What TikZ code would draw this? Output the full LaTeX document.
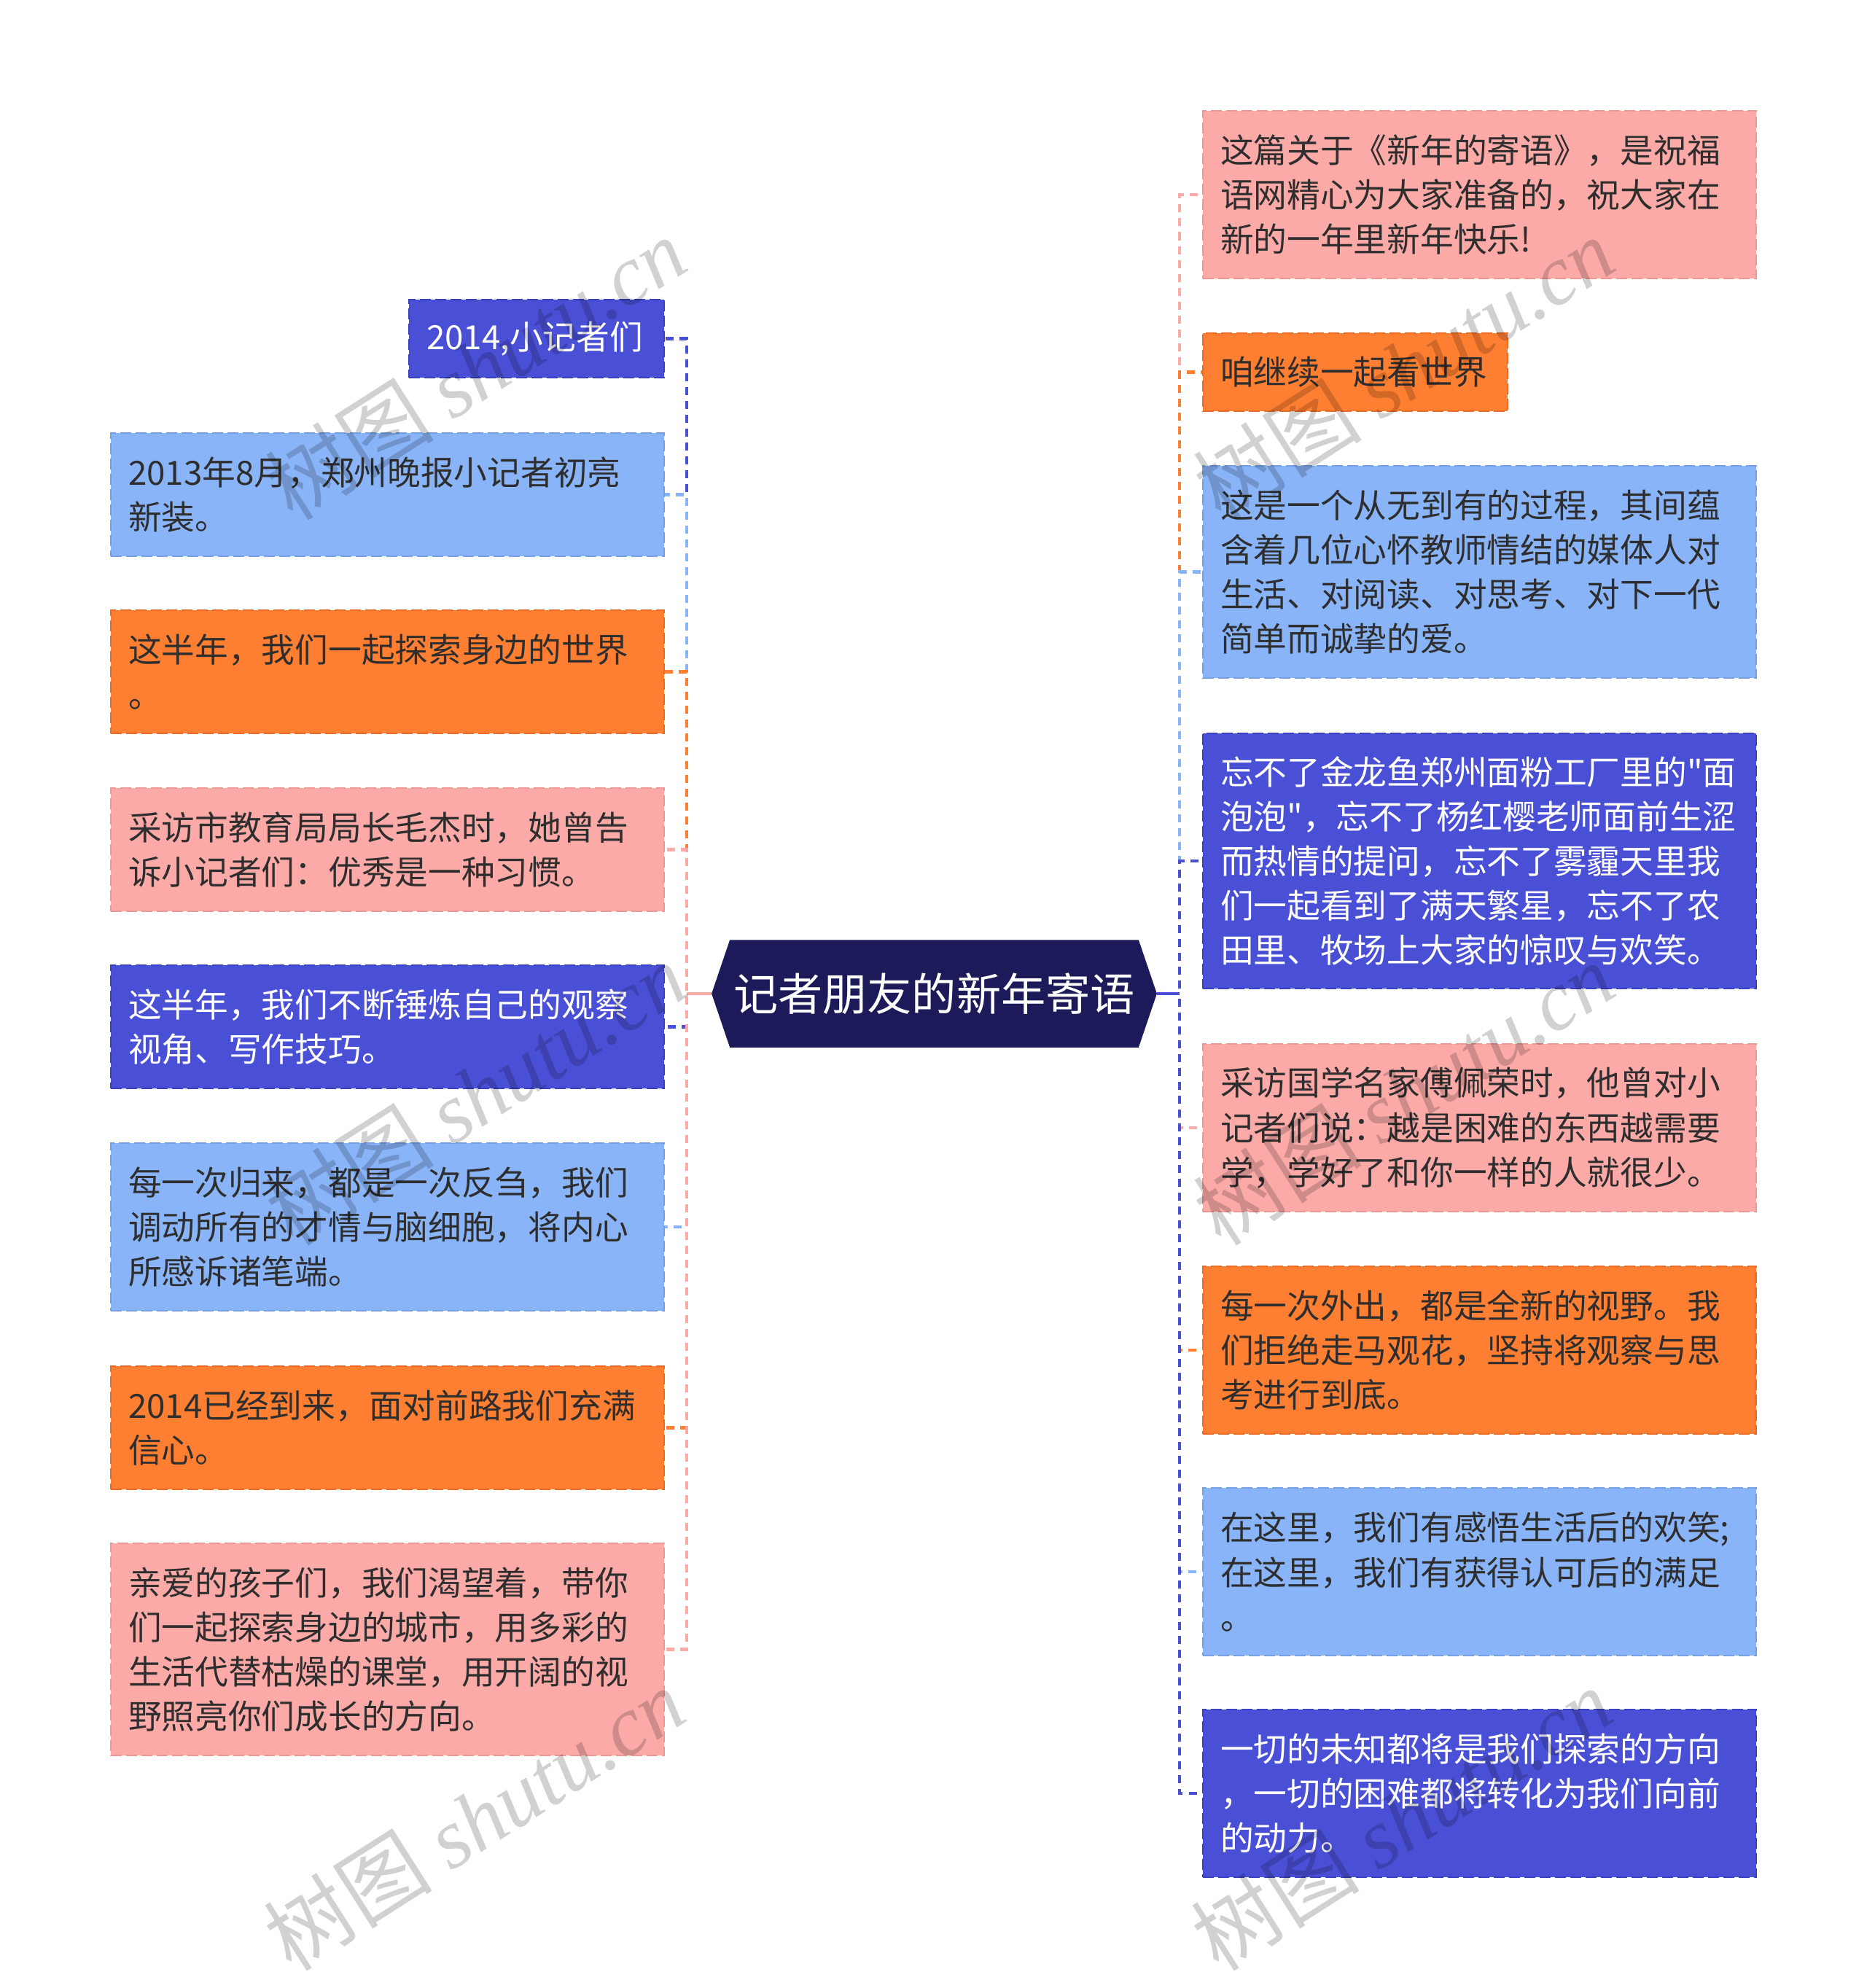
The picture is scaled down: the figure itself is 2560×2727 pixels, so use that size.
\documentclass[tikz,border=0pt]{standalone}
\usepackage{fontspec}
\newfontfamily\cjk{Noto Sans CJK SC}
\newfontfamily\wmserif{Liberation Serif}
\usetikzlibrary{backgrounds}
\definecolor{cnavy}{HTML}{1C1A58}
\definecolor{cdark}{HTML}{4A50D6}
\definecolor{cdarkb}{HTML}{3A40BE}
\definecolor{clight}{HTML}{8AB4F8}
\definecolor{clightb}{HTML}{76A0E4}
\definecolor{corange}{HTML}{FF7F32}
\definecolor{corangeb}{HTML}{E86C26}
\definecolor{cpink}{HTML}{FBAAA8}
\definecolor{cpinkb}{HTML}{EE9896}
\definecolor{ctext}{HTML}{2E2E2E}
\begin{document}
\begin{tikzpicture}[x=0.01cm,y=-0.01cm,
  leaf/.style={anchor=north west, draw, line width=0.02cm,
    dash pattern=on 0.15cm off 0.06cm,
    inner xsep=0.24cm, inner ysep=0pt,
    minimum width=7.59cm, text width=7.11cm, align=left,
    font=\cjk\fontsize{13pt}{17.36pt}\selectfont, text=ctext},
  darkbox/.style={fill=cdark, draw=cdarkb, text=white},
  lightbox/.style={fill=clight, draw=clightb},
  orangebox/.style={fill=corange, draw=corangeb},
  pinkbox/.style={fill=cpink, draw=cpinkb},
  lnone/.style={minimum height=1.07cm},
  lntwo/.style={minimum height=1.69cm},
  lnthree/.style={minimum height=2.30cm},
  lnfour/.style={minimum height=2.91cm},
  lnfive/.style={minimum height=3.50cm},
  conn/.style={line width=0.045cm, dash pattern=on 0.11cm off 0.08cm},
  solidconn/.style={line width=0.04cm},
  rootnode/.style={minimum width=6.09cm, minimum height=1.46cm, inner sep=0pt,
    text=white, font=\cjk\fontsize{17.4pt}{20pt}\selectfont},
  wm/.style={text=black, text opacity=0.18, rotate=32.5,
    font=\cjk\fontsize{33pt}{38pt}\selectfont}
]
\useasboundingbox (0,0) rectangle (2560,2727);

% root
\node[rootnode] (C) at (1281.5,1363) {记者朋友的新年寄语};
\begin{scope}[on background layer]
\fill[white] (0,0) rectangle (2560,2727);
\fill[cnavy] (C.west) -- ([xshift=0.25cm]C.north west) -- ([xshift=-0.25cm]C.north east)
  -- (C.east) -- ([xshift=-0.25cm]C.south east) -- ([xshift=0.25cm]C.south west) -- cycle;
\end{scope}
\coordinate (LT) at (942,1363);
\coordinate (RT) at (1618,1363);

% left boxes
\node[leaf, darkbox, lnone, minimum width=3.5cm, text width=3.02cm] (L1) at (560,410) {2014,小记者们};
\node[leaf, lightbox, lntwo] (L2) at (151,593) {2013年8月，郑州晚报小记者初亮\\新装。};
\node[leaf, orangebox, lntwo] (L3) at (151,836) {这半年，我们一起探索身边的世界\\。};
\node[leaf, pinkbox, lntwo] (L4) at (151,1080) {采访市教育局局长毛杰时，她曾告\\诉小记者们：优秀是一种习惯。};
\node[leaf, darkbox, lntwo] (L5) at (151,1323) {这半年，我们不断锤炼自己的观察\\视角、写作技巧。};
\node[leaf, lightbox, lnthree] (L6) at (151,1567) {每一次归来，都是一次反刍，我们\\调动所有的才情与脑细胞，将内心\\所感诉诸笔端。};
\node[leaf, orangebox, lntwo] (L7) at (151,1873) {2014已经到来，面对前路我们充满\\信心。};
\node[leaf, pinkbox, lnfour] (L8) at (151,2116) {亲爱的孩子们，我们渴望着，带你\\们一起探索身边的城市，用多彩的\\生活代替枯燥的课堂，用开阔的视\\野照亮你们成长的方向。};

% right boxes
\node[leaf, pinkbox, lnthree] (R1) at (1649,151) {这篇关于《新年的寄语》，是祝福\\语网精心为大家准备的，祝大家在\\新的一年里新年快乐!};
\node[leaf, orangebox, lnone, minimum width=4.14cm, text width=3.70cm] (R2) at (1649,456) {咱继续一起看世界};
\node[leaf, lightbox, lnfour] (R3) at (1649,638) {这是一个从无到有的过程，其间蕴\\含着几位心怀教师情结的媒体人对\\生活、对阅读、对思考、对下一代\\简单而诚挚的爱。};
\node[leaf, darkbox, lnfive] (R4) at (1649,1005) {忘不了金龙鱼郑州面粉工厂里的"面\\泡泡"，忘不了杨红樱老师面前生涩\\而热情的提问，忘不了雾霾天里我\\们一起看到了满天繁星，忘不了农\\田里、牧场上大家的惊叹与欢笑。};
\node[leaf, pinkbox, lnthree] (R5) at (1649,1431) {采访国学名家傅佩荣时，他曾对小\\记者们说：越是困难的东西越需要\\学，学好了和你一样的人就很少。};
\node[leaf, orangebox, lnthree] (R6) at (1649,1736) {每一次外出，都是全新的视野。我\\们拒绝走马观花，坚持将观察与思\\考进行到底。};
\node[leaf, lightbox, lnthree] (R7) at (1649,2040) {在这里，我们有感悟生活后的欢笑;\\在这里，我们有获得认可后的满足\\。};
\node[leaf, darkbox, lnthree] (R8) at (1649,2344) {一切的未知都将是我们探索的方向\\，一切的困难都将转化为我们向前\\的动力。};

% connectors
\foreach \n/\c in {L1/cdark, L2/clight, L3/corange, L4/cpink, L5/cdark, L6/clight, L7/corange, L8/cpink}
  \draw[conn, draw=\c] (C.west) -- (LT) |- (\n.east);
\foreach \n/\c in {R1/cpink, R2/corange, R3/clight, R4/cdark, R5/cpink, R6/corange, R7/clight, R8/cdark}
  \draw[conn, draw=\c] (C.east) -- (RT) |- (\n.west);
\draw[solidconn, cpink] (C.west) -- (LT);
\draw[solidconn, cdark] (C.east) -- (RT);

% watermarks
\node[wm] (W1) at (652,505) {树图 {\wmserif\itshape shutu.cn}};
\node[wm] (W2) at (652,1500) {树图 {\wmserif\itshape shutu.cn}};
\node[wm] (W3) at (650,2495) {树图 {\wmserif\itshape shutu.cn}};
\node[wm] (W4) at (1925,505) {树图 {\wmserif\itshape shutu.cn}};
\node[wm] (W5) at (1925,1500) {树图 {\wmserif\itshape shutu.cn}};
\node[wm] (W6) at (1922,2495) {树图 {\wmserif\itshape shutu.cn}};
\end{tikzpicture}
\end{document}
